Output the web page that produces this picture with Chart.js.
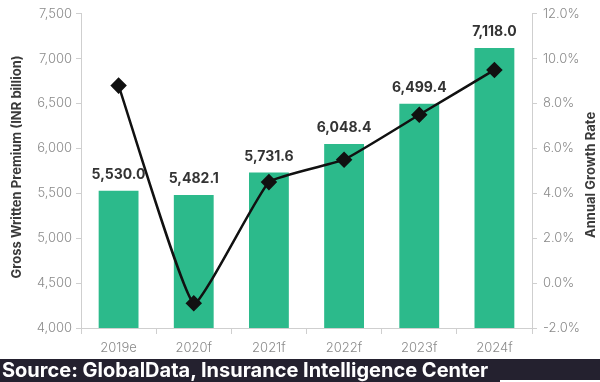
<!DOCTYPE html>
<html>
<head>
<meta charset="utf-8">
<script src="https://cdn.jsdelivr.net/npm/chart.js@4.4.0/dist/chart.umd.min.js"></script>
<style>
  html, body { margin: 0; padding: 0; background: #fff; }
  body { width: 600px; height: 382px; position: relative; overflow: hidden; font-family: Inter, 'Open Sans', sans-serif; }
  #wrap { position: absolute; left: 0; top: 0; width: 600px; height: 359px; }
  .band { position: absolute; left: 0; top: 359px; width: 600px; height: 21px; background: #24212f; }
  .src { position: absolute; left: 0; top: 359px; width: 500px; height: 23px; background: #24212f;
         color: #fff; font-weight: 700; font-size: 20px; line-height: 23px; padding-left: 2px; box-sizing: border-box; white-space: nowrap; }
</style>
</head>
<body>
<div id="wrap"><canvas id="c"></canvas></div>
<div class="band"></div>
<div class="src">Source: GlobalData, Insurance Intelligence Center</div>
<script>
const YEARS   = ['2019e', '2020f', '2021f', '2022f', '2023f', '2024f'];
const PREMIUM = [5530.0, 5482.1, 5731.6, 6048.4, 6499.4, 7118.0];
const GROWTH  = [8.8, -0.9, 4.5, 5.5, 7.5, 9.5];

const GREEN = '#2cba8b';
const TICK  = '#8a8a8a';
const AXIS  = '#cfcfcf';
const FONT  = "Inter, 'Open Sans', sans-serif";

// value labels above bars + rotated axis titles
const overlay = {
  id: 'overlay',
  afterDatasetsDraw(chart) {
    const ctx = chart.ctx;
    const meta = chart.getDatasetMeta(1);
    ctx.save();
    ctx.fillStyle = '#333';
    ctx.font = `700 14px ${FONT}`;
    ctx.textAlign = 'center';
    ctx.textBaseline = 'bottom';
    meta.data.forEach((bar, i) => {
      ctx.fillText(PREMIUM[i].toLocaleString('en-US', { minimumFractionDigits: 1 }), bar.x, bar.y - 9);
    });
    ctx.restore();
  },
  afterDraw(chart) {
    const ctx = chart.ctx;
    const area = chart.chartArea;
    const mid = (area.top + area.bottom) / 2;
    ctx.save();
    ctx.fillStyle = '#3a3a3a';
    ctx.font = `700 13px ${FONT}`;
    ctx.textAlign = 'center';
    ctx.textBaseline = 'middle';
    ctx.translate(17, mid - 4);
    ctx.rotate(-Math.PI / 2);
    ctx.fillText('Gross Written Premium (INR billion)', 0, 0);
    ctx.restore();
    ctx.save();
    ctx.fillStyle = '#3a3a3a';
    ctx.font = `700 13px ${FONT}`;
    ctx.textAlign = 'center';
    ctx.textBaseline = 'middle';
    ctx.translate(591, mid + 4);
    ctx.rotate(-Math.PI / 2);
    ctx.fillText('Annual Growth Rate', 0, 0);
    ctx.restore();
  },
};

new Chart(document.getElementById('c'), {
  data: {
    labels: YEARS,
    datasets: [
      {
        type: 'line',
        data: GROWTH,
        yAxisID: 'y2',
        borderColor: '#111',
        borderWidth: 2.5,
        tension: 0.12,
        pointStyle: 'rectRot',
        pointRadius: 6.5,
        pointBackgroundColor: '#111',
        pointBorderColor: '#111',
        order: 0,
      },
      {
        type: 'bar',
        data: PREMIUM,
        yAxisID: 'y',
        backgroundColor: GREEN,
        barPercentage: 0.53,
        categoryPercentage: 1,
        order: 1,
      },
    ],
  },
  options: {
    responsive: true,
    maintainAspectRatio: false,
    animation: false,
    layout: { padding: { top: 10, left: 0, right: 0, bottom: 0 } },
    plugins: { legend: { display: false }, tooltip: { enabled: false } },
    scales: {
      x: {
        offset: true,
        grid: { display: true, drawOnChartArea: false, offset: true, color: AXIS, tickLength: 6 },
        border: { color: AXIS },
        ticks: { color: TICK, font: { family: FONT, size: 13, weight: 300 }, padding: 6 },
        afterFit(s) { s.height = 31; },
      },
      y: {
        position: 'left',
        min: 4000, max: 7500,
        grid: { display: true, drawOnChartArea: false, color: AXIS, tickLength: 5 },
        border: { color: AXIS },
        ticks: {
          stepSize: 500, color: TICK, padding: 4,
          font: { family: FONT, size: 13, weight: 300 },
          callback: (v) => v.toLocaleString('en-US'),
        },
        afterFit(s) { s.width = 81; },
      },
      y2: {
        position: 'right',
        min: -2, max: 12,
        grid: { display: true, drawOnChartArea: false, color: AXIS, tickLength: 5 },
        border: { color: AXIS },
        ticks: {
          stepSize: 2, color: TICK, padding: 6,
          font: { family: FONT, size: 13, weight: 300 },
          callback: (v) => v.toFixed(1) + '%',
        },
        afterFit(s) { s.width = 68; },
      },
    },
  },
  plugins: [overlay],
});
</script>
</body>
</html>
